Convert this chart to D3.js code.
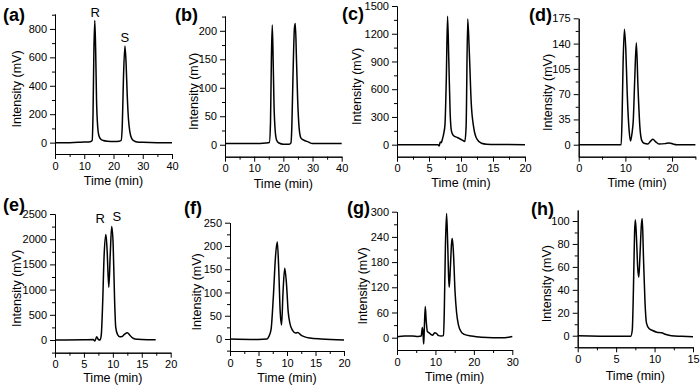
<!DOCTYPE html>
<html>
<meta charset="utf-8">
<style>
  body { margin: 0; background: #fff; }
  svg text { font-family: "Liberation Sans", Arial, sans-serif; fill: #000; }
  .tick text { font-size: 11px; }
  .domain, .tick line { stroke: #000; stroke-width: 1; }
  .ttl { font-size: 12.5px; text-anchor: middle; }
  .plab { font-size: 18px; font-weight: bold; }
  .peak { font-size: 13px; text-anchor: middle; }
  .trace { fill: none; stroke: #000; stroke-width: 1.5; stroke-linejoin: round; }
</style>
<script src="https://d3js.org/d3.v7.min.js"></script>
<body>
<script>
// ---- data (time in min, intensity in mV) ----
var timeA = [0, 5, 8, 10, 11, 12, 12.7, 13.0, 13.3, 13.6, 13.9, 14.2, 14.6, 15.0, 15.6, 16.5, 18, 20, 22, 22.6, 23.0, 23.4, 23.9, 24.3, 24.7, 25.1, 25.6, 26.2, 27, 28, 30, 35, 40];
var intA  = [0, 0, 2, 5, 4, 6, 15, 200, 650, 860, 650, 300, 110, 50, 25, 15, 10, 8, 10, 15, 120, 450, 680, 560, 330, 170, 75, 30, 12, 5, 2, 0, 0];

var timeB = [0, 5, 10, 14, 15.2, 15.6, 15.9, 16.2, 16.5, 16.8, 17.2, 17.7, 18.5, 20, 22, 22.6, 22.9, 23.3, 23.8, 24.1, 24.5, 24.9, 25.4, 26, 27, 28.5, 30, 35, 40];
var intB  = [2, 2, 2, 3, 4, 40, 150, 210, 150, 70, 25, 8, 3, 1, 1, 3, 30, 120, 205, 213, 150, 80, 30, 12, 8, 5, 2, 2, 2];

var timeC = [0, 5, 6.4, 6.6, 6.75, 6.9, 7.1, 7.3, 7.5, 7.7, 7.9, 8.1, 8.3, 8.5, 8.8, 9.5, 10.2, 10.6, 10.8, 11.05, 11.3, 11.6, 12.0, 12.5, 13.2, 14, 16, 20];
var intC  = [0, 0, 0, -15, 30, 20, 60, 120, 220, 700, 1390, 900, 350, 150, 100, 75, 50, 35, 200, 1360, 1000, 450, 180, 60, 15, 5, 2, 0];

var timeD = [0, 5, 9.1, 9.3, 9.5, 9.8, 10.1, 10.4, 10.8, 11.1, 11.4, 11.7, 12.0, 12.35, 12.7, 13.1, 13.5, 14, 14.8, 15.4, 15.9, 16.5, 17.2, 18.5, 19.4, 20.2, 21, 25];
var intD  = [0, 0, 0, 40, 110, 160, 130, 70, 20, 5, 15, 35, 90, 141, 80, 25, 6, 2, 1, 5, 7.5, 4, 1, 1.5, 2.5, 1, 0, 0];

var timeE = [0, 5, 6.6, 6.9, 7.2, 7.5, 7.8, 8.0, 8.2, 8.5, 8.8, 9.0, 9.3, 9.55, 9.8, 10.05, 10.3, 10.5, 10.8, 11.2, 11.6, 12.0, 12.5, 12.9, 13.4, 13.8, 15, 17.4];
var intE  = [0, 5, 10, -20, 65, 10, 0, 100, 600, 1700, 2095, 1800, 1045, 1700, 2250, 1900, 800, 250, 110, 65, 70, 110, 145, 100, 40, 20, 10, 5];

var timeF = [0, 5, 6.5, 6.8, 7.2, 7.6, 8.0, 8.3, 8.55, 8.8, 9.05, 9.3, 9.6, 9.9, 10.2, 10.5, 11, 11.5, 11.9, 12.4, 13, 14, 16, 20];
var intF  = [0, -1, 0, 5, 20, 90, 180, 209, 150, 60, 30, 100, 152, 120, 60, 34, 18, 13, 14, 9, 5, 2, 0, -2];

var timeG = [0, 2, 4, 5.5, 6.3, 6.6, 6.8, 6.95, 7.1, 7.35, 7.6, 7.9, 8.3, 8.8, 9.3, 9.8, 10.3, 10.8, 11.5, 12.1, 12.3, 12.6, 12.9, 13.2, 13.45, 13.6, 13.9, 14.2, 14.4, 14.7, 15.1, 15.5, 16, 16.7, 17.5, 19.4, 22, 25, 28, 30];
var intG  = [2, 4, 4, 3, 4, 24, 5, -15, 20, 74, 40, 15, 12, 8, 6, 12, 10, 5, 4, 5, 60, 220, 296, 220, 140, 120, 170, 225, 236, 200, 110, 60, 30, 14, 8, 4, 1, 0, 0, 3];

var timeH = [0, 5, 6.9, 7.1, 7.25, 7.4, 7.5, 7.65, 7.8, 7.95, 8.1, 8.3, 8.4, 8.55, 8.75, 8.95, 9.3, 9.6, 10.3, 10.9, 11.5, 12.2, 13.5, 15];
var intH  = [0, -0.5, -0.5, 5, 40, 90, 101, 85, 60, 51, 70, 98, 102, 70, 30, 11, 6, 5, 3, 2.5, 1, 0, -0.5, -1];

// tick labels
var xTicks40 = [0, 10, 20, 30, 40];
var xTicks20 = [0, 5, 10, 15, 20];
var xTicks25 = [0, 10, 20];
var xTicks30 = [0, 10, 20, 30];
var xTicks15 = [0, 5, 10, 15];
var yTicksA = [0, 200, 400, 600, 800];
var yTicksB = [0, 50, 100, 150, 200];
var yTicksC = [0, 300, 600, 900, 1200, 1500];
var yTicksD = [0, 35, 70, 105, 140, 175];
var yTicksE = [0, 500, 1000, 1500, 2000, 2500];
var yTicksF = [0, 50, 100, 150, 200, 250];
var yTicksG = [0, 60, 120, 180, 240, 300];
var yTicksH = [0, 20, 40, 60, 80, 100];

var panels = [
  {lab: "(a)", t: timeA, v: intA, xd: [0, 40], yd: [-80, 905], xt: xTicks40, yt: yTicksA,
   x0: 55, x1: 172, y0: 154, y1: 14, yl: -38, xl: 31, lx: 3, ly: 21,
   peaks: [["R", 13.7, 865], ["S", 23.9, 685]]},
  {lab: "(b)", t: timeB, v: intB, xd: [0, 40], yd: [-21, 226], xt: xTicks40, yt: yTicksB,
   x0: 225, x1: 341.7, y0: 156.7, y1: 16, yl: -31, xl: 31, lx: 175, ly: 21},
  {lab: "(c)", t: timeC, v: intC, xd: [0, 20], yd: [-130, 1500], xt: xTicks20, yt: yTicksC,
   x0: 397, x1: 525, y0: 156.7, y1: 6, yl: -40, xl: 30, lx: 342, ly: 20},
  {lab: "(d)", t: timeD, v: intD, xd: [0, 25], yd: [-16.6, 175], xt: xTicks25, yt: yTicksD,
   x0: 578.7, x1: 695.4, y0: 156.7, y1: 18.3, yl: -31, xl: 30, lx: 529, ly: 21},
  {lab: "(e)", t: timeE, v: intE, xd: [0, 20], yd: [-252, 2500], xt: xTicks20, yt: yTicksE,
   x0: 55, x1: 170.7, y0: 352.7, y1: 214, yl: -38, xl: 29, lx: 3, ly: 211,
   peaks: [["R", 7.8, 2260], ["S", 10.7, 2300]]},
  {lab: "(f)", t: timeF, v: intF, xd: [0, 20], yd: [-25.8, 250], xt: xTicks20, yt: yTicksF,
   x0: 230, x1: 344, y0: 351, y1: 222.7, yl: -33, xl: 31, lx: 184, ly: 214},
  {lab: "(g)", t: timeG, v: intG, xd: [0, 30], yd: [-29.3, 300], xt: xTicks30, yt: yTicksG,
   x0: 397, x1: 512.3, y0: 350, y1: 211.7, yl: -34, xl: 31, lx: 347, ly: 214},
  {lab: "(h)", t: timeH, v: intH, xd: [0, 15], yd: [-10.1, 109.6], xt: xTicks15, yt: yTicksH,
   x0: 577.7, x1: 693, y0: 347.3, y1: 210, yl: -31, xl: 33, lx: 531, ly: 215}
];

var svg = d3.select("body").append("svg").attr("width", 700).attr("height", 387);

function minors(ticks, dom) {
  var step = (ticks[1] - ticks[0]) / 2, out = [];
  for (var k = Math.ceil(dom[0] / step); k * step <= dom[1] + 1e-9; k++) {
    var m = k * step;
    if (ticks.indexOf(m) < 0) out.push(m);
  }
  return out;
}

panels.forEach(function(p) {
  var x = d3.scaleLinear().domain(p.xd).range([p.x0, p.x1]);
  var y = d3.scaleLinear().domain(p.yd).range([p.y0, p.y1]);
  var g = svg.append("g");

  g.append("g").attr("transform", "translate(0," + p.y0 + ")")
    .call(d3.axisBottom(x).tickValues(minors(p.xt, p.xd)).tickSize(3).tickSizeOuter(0).tickFormat(""));
  g.append("g").attr("transform", "translate(0," + p.y0 + ")")
    .call(d3.axisBottom(x).tickValues(p.xt).tickSize(5).tickSizeOuter(0).tickPadding(3).tickFormat(d3.format("d")));
  g.append("g").attr("transform", "translate(" + p.x0 + ",0)")
    .call(d3.axisLeft(y).tickValues(minors(p.yt, p.yd)).tickSize(3).tickSizeOuter(0).tickFormat(""));
  g.append("g").attr("transform", "translate(" + p.x0 + ",0)")
    .call(d3.axisLeft(y).tickValues(p.yt).tickSize(5).tickSizeOuter(0).tickPadding(3).tickFormat(d3.format("d")));

  var line = d3.line().x(function(d) { return x(d[0]); }).y(function(d) { return y(d[1]); })
    .curve(d3.curveMonotoneX);
  g.append("path").attr("class", "trace").attr("d", line(d3.zip(p.t, p.v)));

  g.append("text").attr("class", "ttl")
    .attr("x", (p.x0 + p.x1) / 2).attr("y", p.y0 + p.xl)
    .text("Time (min)");
  g.append("text").attr("class", "ttl")
    .attr("transform", "translate(" + (p.x0 + p.yl + 4) + "," + ((p.y0 + p.y1) / 2 + 5) + ") rotate(-90)")
    .text("Intensity (mV)");
  g.append("text").attr("class", "plab").attr("x", p.lx).attr("y", p.ly).text(p.lab);

  (p.peaks || []).forEach(function(pk) {
    g.append("text").attr("class", "peak").attr("x", x(pk[1])).attr("y", y(pk[2]) - 3).text(pk[0]);
  });
});
</script>
</body>
</html>
